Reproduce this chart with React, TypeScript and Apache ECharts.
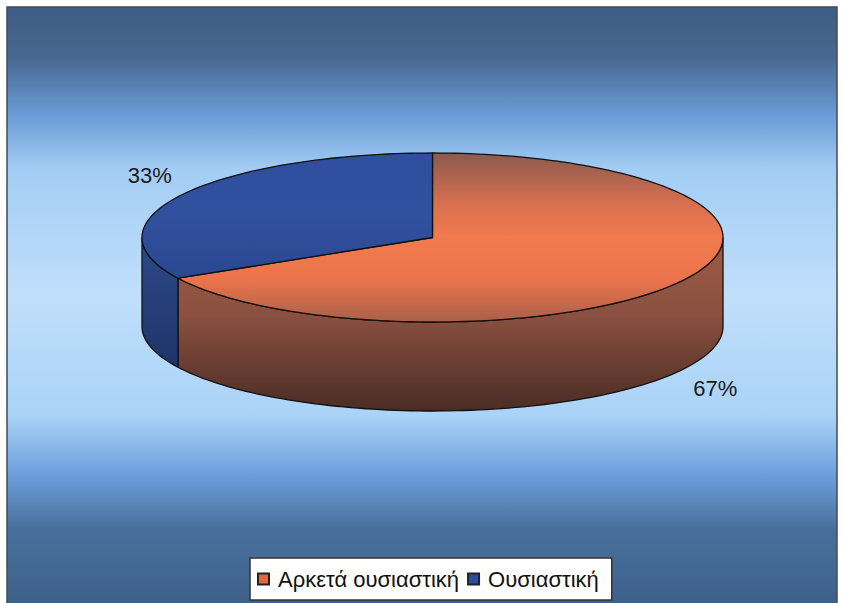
import React, { useEffect, useRef } from "react";
import * as echarts from "echarts";

const categories = ["Αρκετά ουσιαστική", "Ουσιαστική"];
const values = [67, 33];

const FONT = "'Liberation Sans', Arial, sans-serif";
const CX = 432.5;
const CY = 237.5;
const RX = 290.5;
const RY = 84.5;
const DEPTH = 89;

const topFills = [
  () =>
    new echarts.graphic.LinearGradient(0, 0, 0, 1, [
      { offset: 0, color: "#8a5a4e" },
      { offset: 0.3, color: "#d87050" },
      { offset: 0.5, color: "#f27a4e" },
      { offset: 0.75, color: "#ec744c" },
      { offset: 1, color: "#a8604a" },
    ]),
  () =>
    new echarts.graphic.LinearGradient(0, 0, 0, 1, [
      { offset: 0, color: "#2f4f9e" },
      { offset: 0.5, color: "#31509f" },
      { offset: 1, color: "#2a4790" },
    ]),
];
const sideFills = [
  () =>
    new echarts.graphic.LinearGradient(0, 0, 0, 1, [
      { offset: 0, color: "#9c5c44" },
      { offset: 0.45, color: "#8a5040" },
      { offset: 1, color: "#4a2c24" },
    ]),
  () =>
    new echarts.graphic.LinearGradient(0, 0, 0, 1, [
      { offset: 0, color: "#2c4a8a" },
      { offset: 1, color: "#1f3468" },
    ]),
];
const legendColors = ["#e8643a", "#2c4ea0"];

const total = values.reduce((a, b) => a + b, 0);

function pt(deg: number, dy: number): number[] {
  const r = (deg * Math.PI) / 180;
  return [CX + RX * Math.cos(r), CY - RY * Math.sin(r) + dy];
}

function arcPoints(a1: number, a2: number, dy: number): number[][] {
  const pts: number[][] = [];
  const n = Math.max(2, Math.ceil(Math.abs(a2 - a1) / 1.5));
  for (let i = 0; i <= n; i++) {
    pts.push(pt(a1 + ((a2 - a1) * i) / n, dy));
  }
  return pts;
}

function makeRender(idx: number) {
  return (params: any, api: any) => {
    const v = api.value(0);
    let cum = 0;
    for (let i = 0; i < idx; i++) cum += values[i];
    const aStart = 90 - (360 * cum) / total;
    const aEnd = aStart - (360 * v) / total;
    const children: any[] = [];
    const stroke = "#111";
    for (let k = -2; k <= 2; k++) {
      const lo = Math.max(aEnd, -180 + 360 * k);
      const hi = Math.min(aStart, 360 * k);
      if (hi > lo) {
        const top = arcPoints(hi, lo, 0);
        const bottom = arcPoints(lo, hi, DEPTH);
        children.push({
          type: "polygon",
          shape: { points: top.concat(bottom) },
          style: { fill: sideFills[idx](), stroke, lineWidth: 1.3 },
        });
      }
    }
    const topPts = [[CX, CY]].concat(arcPoints(aStart, aEnd, 0));
    children.push({
      type: "polygon",
      shape: { points: topPts },
      style: { fill: topFills[idx](), stroke, lineWidth: 1.3, lineJoin: "round" },
    });
    const mid = (aStart + aEnd) / 2;
    const r = (mid * Math.PI) / 180;
    const s = Math.sin(r);
    const base = pt(mid, s < 0 ? DEPTH : 0);
    const lx = base[0] + Math.cos(r) * 38;
    const ly = base[1] - s * 38;
    children.push({
      type: "text",
      x: lx,
      y: ly,
      style: {
        text: Math.round((v / total) * 100) + "%",
        fill: "#1a1a1a",
        font: `22px ${FONT}`,
        align: "center",
        verticalAlign: "middle",
      },
    });
    return { type: "group", children };
  };
}

export default function App() {
  const ref = useRef<HTMLDivElement>(null);
  useEffect(() => {
    if (!ref.current) return;
    const chart = echarts.init(ref.current, null, { renderer: "svg" });
    chart.setOption({
      animation: false,
      graphic: [
        {
          type: "rect",
          z: 0,
          silent: true,
          shape: { x: 7, y: 7, width: 830, height: 600 },
          style: {
            fill: new echarts.graphic.LinearGradient(0, 0, 0, 1, [
              { offset: 0, color: "#3e5d84" },
              { offset: 0.08, color: "#46678e" },
              { offset: 0.18, color: "#6a9bd6" },
              { offset: 0.27, color: "#a3cdf4" },
              { offset: 0.48, color: "#c0dffb" },
              { offset: 0.68, color: "#aad3f7" },
              { offset: 0.78, color: "#6c9fdc" },
              { offset: 0.87, color: "#48709c" },
              { offset: 1, color: "#3e6089" },
            ]),
            stroke: "#4a4a4a",
            lineWidth: 1.5,
          },
        },
      ],
      legend: {
        data: categories,
        left: 250,
        top: 558,
        orient: "horizontal",
        icon: "rect",
        itemWidth: 11,
        itemHeight: 11,
        itemGap: 8,
        padding: [10, 13, 10, 7],
        backgroundColor: "#ffffff",
        borderColor: "#333",
        borderWidth: 1.5,
        borderRadius: 0,
        selectedMode: false,
        textStyle: {
          fontSize: 22,
          color: "#111",
          fontFamily: FONT,
          padding: [0, 0, 0, 4],
        },
      },
      series: categories.map((name, i) => ({
        type: "custom",
        name,
        coordinateSystem: "none",
        renderItem: makeRender(i),
        itemStyle: { color: legendColors[i], borderColor: "#222", borderWidth: 1 },
        data: [[values[i]]],
        silent: true,
      })),
    });
    return () => chart.dispose();
  }, []);
  return (
    <div
      ref={ref}
      style={{ position: "fixed", left: 0, top: 0, width: 844, height: 603, background: "#fff" }}
    />
  );
}
